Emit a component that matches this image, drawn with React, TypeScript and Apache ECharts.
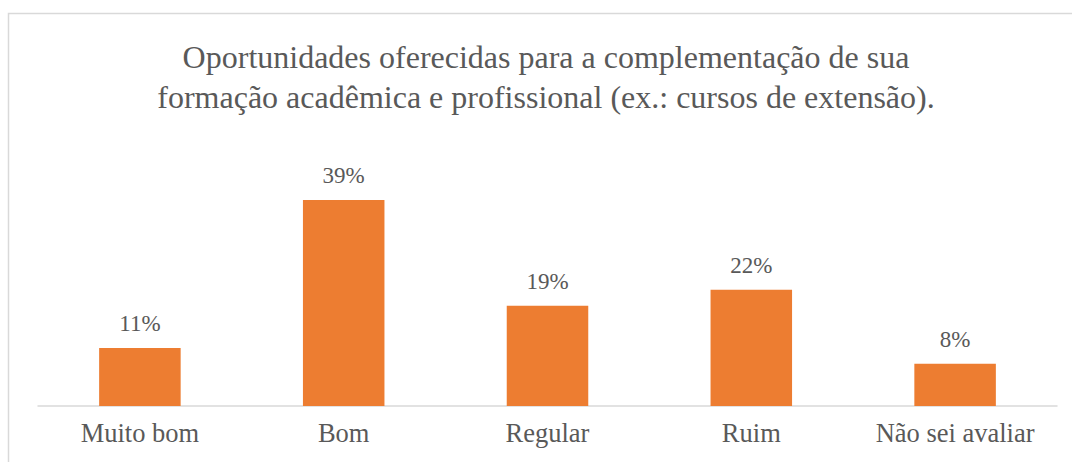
import React, { useEffect, useRef } from "react";
import * as echarts from "echarts";

const categories = ["Muito bom", "Bom", "Regular", "Ruim", "Não sei avaliar"];
const values = [11, 39, 19, 22, 8];
const titleLines = [
  "Oportunidades oferecidas para a complementação de sua",
  "formação acadêmica e profissional (ex.: cursos de extensão).",
];

export default function App() {
  const ref = useRef<HTMLDivElement>(null);
  useEffect(() => {
    const chart = echarts.init(ref.current!, null, { renderer: "svg" });
    const font = "Liberation Serif";
    chart.setOption({
      animation: false,
      backgroundColor: "#ffffff",
      title: {
        text: titleLines.join("\n"),
        left: 541,
        top: 32,
        textAlign: "center",
        textStyle: {
          fontFamily: font,
          fontSize: 32,
          fontWeight: "normal",
          color: "#595959",
          lineHeight: 40,
        },
      },
      graphic: [
        {
          type: "rect",
          shape: { x: 8.5, y: 13.5, width: 1080, height: 480 },
          style: { fill: "none", stroke: "#d9d9d9", lineWidth: 1.5 },
          silent: true,
        },
      ],
      grid: { left: 38, right: 15, top: 194.8, bottom: 56 },
      xAxis: {
        type: "category",
        data: categories,
        axisLine: { lineStyle: { color: "#d9d9d9", width: 1.5 } },
        axisTick: { show: false },
        axisLabel: {
          fontFamily: font,
          fontSize: 26.5,
          color: "#595959",
          margin: 13,
          interval: 0,
        },
      },
      yAxis: {
        type: "value",
        min: 0,
        max: 40,
        show: false,
        splitLine: { show: false },
      },
      series: [
        {
          type: "bar",
          data: values,
          barWidth: "40%",
          itemStyle: { color: "#ED7D31" },
          label: {
            show: true,
            position: "top",
            distance: 13,
            formatter: "{c}%",
            fontFamily: font,
            fontSize: 23,
            color: "#595959",
          },
        },
      ],
    });
    return () => chart.dispose();
  }, []);
  return (
    <div
      ref={ref}
      style={{ position: "fixed", left: 0, top: 0, width: 1072, height: 462 }}
    />
  );
}
